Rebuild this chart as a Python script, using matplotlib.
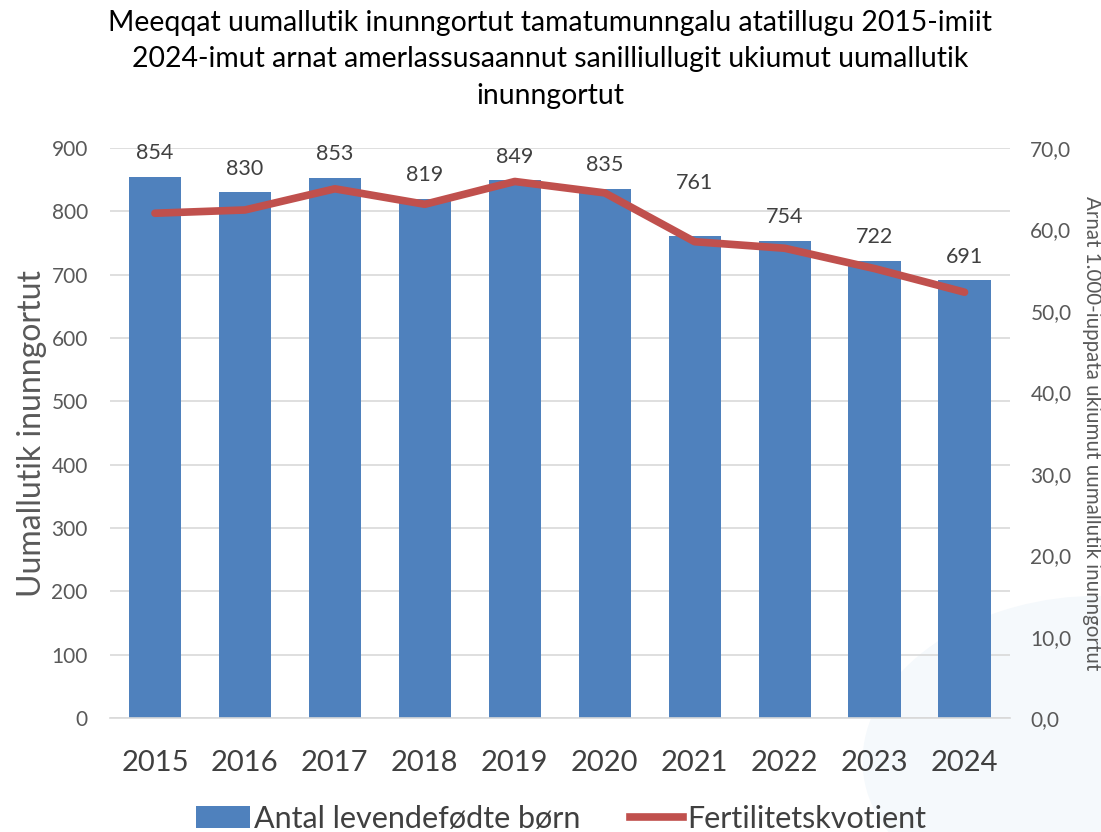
import matplotlib
matplotlib.use("Agg")
import matplotlib.pyplot as plt
from matplotlib.patches import Ellipse, Patch
from matplotlib.lines import Line2D
import numpy as np

years = ["2015", "2016", "2017", "2018", "2019", "2020", "2021", "2022", "2023", "2024"]
births = [854, 830, 853, 819, 849, 835, 761, 754, 722, 691]
fertility = [62.0, 62.4, 65.0, 63.1, 65.9, 64.5, 58.5, 57.7, 55.2, 52.3]

title = ("Meeqqat uumallutik inunngortut tamatumunngalu atatillugu 2015-imiit\n"
         "2024-imut arnat amerlassusaannut sanilliullugit ukiumut uumallutik\n"
         "inunngortut")
left_label = "Uumallutik inunngortut"
right_label = "Arnat 1.000-iuppata ukiumut uumallutik inunngortut"
legend_labels = ["Antal levendefødte børn", "Fertilitetskvotient"]

bar_color = "#4F81BD"
line_color = "#C0504D"
text_color = "#404040"
narrow = ["Lato", "DejaVu Sans"]
calib = ["Lato", "DejaVu Sans"]

fig = plt.figure(figsize=(11.01, 8.32), dpi=100)
# faint watermark shape behind everything
fig.patches.append(Ellipse((0.98, 0.10), 0.40, 0.36, angle=25, transform=fig.transFigure,
                           facecolor="#F5F9FC", edgecolor="none", zorder=-5))

ax = fig.add_axes([0.0999, 0.137, 0.817, 0.685])
ax.set_zorder(1)
ax.patch.set_alpha(0)
x = np.arange(len(years))
ax.bar(x, births, width=0.58, color=bar_color, zorder=2)
ax.set_xlim(-0.5, len(years) - 0.5)
ax.set_ylim(0, 900)
ax.set_yticks(range(0, 901, 100))
ax.grid(axis="y", color="#D9D9D9", linewidth=1.2, zorder=0)
ax.set_axisbelow(True)
for s in ax.spines.values():
    s.set_visible(False)
ax.spines["bottom"].set_visible(True)
ax.spines["bottom"].set_color("#D9D9D9")
ax.spines["bottom"].set_linewidth(1.2)
ax.tick_params(axis="both", length=0)
ax.set_xticks(x)
ax.set_xticklabels(years, fontsize=21, color=text_color, family=narrow)
ax.tick_params(axis="x", pad=23)
for lab in ax.get_yticklabels():
    lab.set_fontsize(15)
    lab.set_color("#595959")
    lab.set_family(calib)
ax.tick_params(axis="y", pad=16)
ax.set_ylabel(left_label, fontsize=23, color="#595959", family=calib, labelpad=3)

label_extra = [0, 0, 0, 0, 0, 0, 21, 0, 0, 0]
for xi, v, ex in zip(x, births, label_extra):
    ax.annotate(str(v), (xi, v), xytext=(0, 10 + ex), textcoords="offset points",
                ha="center", va="bottom", fontsize=15.5, color=text_color, family=calib)

ax2 = ax.twinx()
ax2.patch.set_alpha(0)
ax2.plot(x, fertility, color=line_color, linewidth=5.5, solid_capstyle="round",
         solid_joinstyle="round", zorder=3)
ax2.set_ylim(0, 70)
ax2.set_yticks(range(0, 71, 10))
ax2.set_yticklabels([f"{v},0" for v in range(0, 71, 10)], fontsize=15,
                    color="#595959", family=calib)
ax2.yaxis.set_tick_params(which="both", length=0, pad=15)
for s in ax2.spines.values():
    s.set_visible(False)
ax2.set_ylabel(right_label, fontsize=14.8, color="#595959", family=calib,
               rotation=-90, va="center", ha="center")
ax2.yaxis.set_label_coords(1.0915, 0.5)

fig.suptitle(title, y=0.988, fontsize=20.4, color="black", family=narrow, linespacing=1.5)

handles = [Patch(facecolor=bar_color), Line2D([0], [0], color=line_color, linewidth=5.5)]
leg = fig.legend(handles, legend_labels, loc="center", bbox_to_anchor=(0.51, 0.016),
                 ncol=2, frameon=False, columnspacing=1.6,
                 handlelength=1.75, handletextpad=0.15, prop={"family": narrow, "size": 22})
for t in leg.get_texts():
    t.set_color(text_color)

fig.savefig("out.png", dpi=100)
